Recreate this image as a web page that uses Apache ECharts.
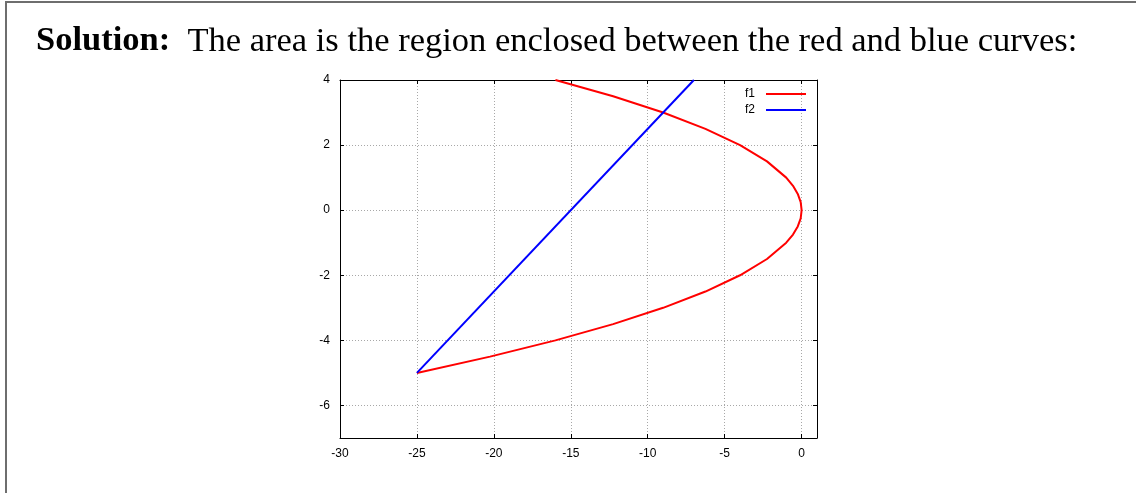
<!DOCTYPE html>
<html>
<head>
<meta charset="utf-8">
<title>Solution</title>
<script src="https://cdn.jsdelivr.net/npm/echarts@6/dist/echarts.min.js"></script>
<style type="text/css">
body {
	margin: 0;
	background: #ffffff;
}
#main {
	width: 1136px;
	height: 493px;
}
</style>
</head>
<body>
	<div id="main"></div>
	<script type="text/javascript">
		// 刻度
		var xTicks = [ -30, -25, -20, -15, -10, -5, 0 ];
		var yTicks = [ -6, -4, -2, 0, 2, 4 ];

		// f1 红色曲线 [x, y]
		var f1Points = [ [ -16, 4 ], [ -12.25, 3.5 ], [ -9, 3 ], [ -6.25, 2.5 ],
				[ -4, 2 ], [ -2.25, 1.5 ], [ -1, 1 ], [ -0.56, 0.75 ],
				[ -0.25, 0.5 ], [ -0.06, 0.25 ], [ 0, 0 ], [ -0.06, -0.25 ],
				[ -0.25, -0.5 ], [ -0.56, -0.75 ], [ -1, -1 ], [ -2.25, -1.5 ],
				[ -4, -2 ], [ -6.25, -2.5 ], [ -9, -3 ], [ -12.25, -3.5 ],
				[ -16, -4 ], [ -20.25, -4.5 ], [ -25, -5 ] ];

		// f2 蓝色直线 [x, y]
		var f2Points = [ [ -25, -5 ], [ -7, 4 ] ];

		var myChart = echarts.init(document.getElementById('main'));

		var tickFont = {
			fontFamily : 'Liberation Sans',
			fontSize : 12,
			color : '#000'
		};

		// 边框轴（上、右为镜像刻度）
		function frameAxis(pos, min, max, ticks, main) {
			return {
				type : 'value',
				position : pos,
				min : min,
				max : max,
				axisLine : {
					show : true,
					onZero : false,
					lineStyle : {
						color : '#000',
						width : 1
					}
				},
				axisTick : {
					show : true,
					inside : true,
					length : 4,
					customValues : ticks,
					lineStyle : {
						color : '#000'
					}
				},
				axisLabel : main ? Object.assign({
					customValues : ticks,
					margin : 10
				}, tickFont) : {
					show : false
				},
				splitLine : {
					show : main,
					lineStyle : {
						color : '#a8a8a8',
						type : [ 1, 2 ]
					}
				}
			};
		}

		option = {
			animation : false,
			backgroundColor : '#fff',
			title : {
				left : 31,
				top : 19,
				text : '{b|Solution:}  The area is the region enclosed between the red and blue curves:',
				textStyle : {
					fontFamily : 'Liberation Serif',
					fontSize : 34.5,
					fontWeight : 'normal',
					color : '#000',
					rich : {
						b : {
							fontFamily : 'Liberation Serif',
							fontSize : 34.5,
							fontWeight : 'bold',
							color : '#000'
						}
					}
				}
			},
			// 外框
			graphic : [ {
				type : 'rect',
				shape : {
					x : 6,
					y : 2,
					width : 1200,
					height : 600
				},
				style : {
					fill : null,
					stroke : '#6e6e6e',
					lineWidth : 2
				},
				z : 0
			} ],
			legend : {
				orient : 'vertical',
				right : 325,
				top : 83,
				align : 'right',
				itemWidth : 40,
				itemHeight : 2,
				itemGap : 4,
				icon : 'rect',
				textStyle : {
					fontFamily : 'Liberation Sans',
					fontSize : 12,
					color : '#000',
					padding : [ 0, 6, 0, 0 ]
				},
				data : [ 'f1', 'f2' ]
			},
			grid : {
				left : 340,
				top : 80,
				width : 477,
				height : 358
			},
			xAxis : [ frameAxis('bottom', -30, 1, xTicks, true),
					frameAxis('top', -30, 1, xTicks, false) ],
			yAxis : [ frameAxis('left', -7, 4, yTicks, true),
					frameAxis('right', -7, 4, yTicks, false) ],
			series : [ {
				name : 'f1',
				type : 'line',
				data : f1Points,
				symbol : 'none',
				color : '#ff0000',
				lineStyle : {
					color : '#ff0000',
					width : 2
				},
				z : 3
			}, {
				name : 'f2',
				type : 'line',
				data : f2Points,
				symbol : 'none',
				color : '#0000ff',
				lineStyle : {
					color : '#0000ff',
					width : 2
				},
				z : 3
			} ]
		};

		myChart.setOption(option);
	</script>
</body>
</html>
